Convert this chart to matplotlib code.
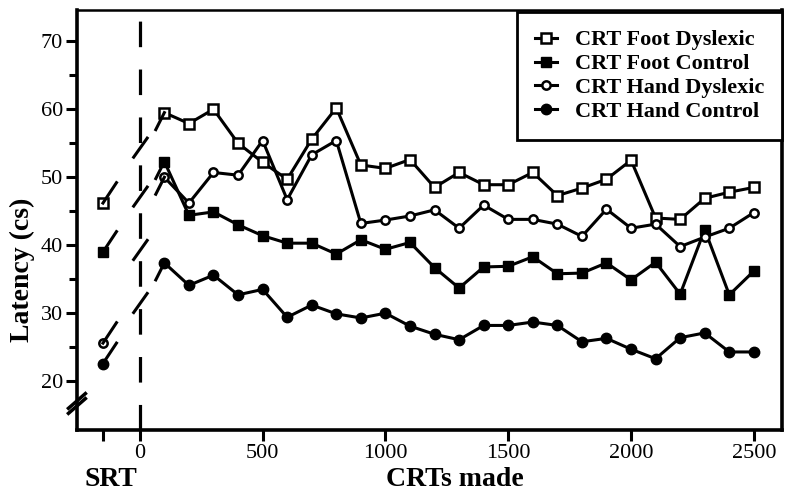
import matplotlib
matplotlib.use('Agg')

import numpy as np
import matplotlib.pyplot as plt

plt.rcParams['font.family'] = ['Liberation Serif', 'DejaVu Serif']

# CRT trial blocks (number of CRTs made)
crts = [100, 200, 300, 400, 500, 600, 700, 800, 900, 1000, 1100, 1200, 1300,
        1400, 1500, 1600, 1700, 1800, 1900, 2000, 2100, 2200, 2300, 2400, 2500]
srt_x = -150

foot_dys = [59.5, 57.9, 60.0, 55.0, 52.2, 49.7, 55.6, 60.2, 51.8, 51.3, 52.6, 48.5, 50.7,
            48.9, 48.9, 50.7, 47.3, 48.4, 49.7, 52.5, 44.0, 43.8, 46.9, 47.8, 48.5]
foot_ctl = [52.3, 44.4, 44.9, 43.0, 41.4, 40.3, 40.3, 38.7, 40.8, 39.4, 40.4, 36.7, 33.7,
            36.8, 36.9, 38.3, 35.8, 35.9, 37.4, 34.9, 37.5, 32.8, 42.3, 32.7, 36.2]
hand_dys = [50.0, 46.2, 50.7, 50.3, 55.4, 46.7, 53.3, 55.4, 43.2, 43.7, 44.3, 45.2, 42.5,
            45.9, 43.8, 43.8, 43.1, 41.3, 45.3, 42.5, 43.1, 39.8, 41.2, 42.5, 44.8]
hand_ctl = [37.4, 34.1, 35.6, 32.7, 33.5, 29.4, 31.2, 29.9, 29.3, 30.0, 28.1, 26.9, 26.1,
            28.2, 28.2, 28.7, 28.2, 25.8, 26.3, 24.7, 23.3, 26.4, 27.1, 24.3, 24.3]

# simple reaction time (SRT) values
srt_vals = [46.2, 39.0, 25.6, 22.6]

labels = ['CRT Foot Dyslexic', 'CRT Foot Control', 'CRT Hand Dyslexic', 'CRT Hand Control']
styles = [
    dict(marker='s', mfc='white', ms=6.5, mew=1.8),
    dict(marker='s', mfc='black', ms=7, mew=1.0),
    dict(marker='o', mfc='white', ms=6, mew=1.8),
    dict(marker='o', mfc='black', ms=7.5, mew=1.0),
]

fig = plt.figure(figsize=(7.85, 4.99), dpi=100)
ax = fig.add_axes([0.098, 0.138, 0.898, 0.842])

series = [foot_dys, foot_ctl, hand_dys, hand_ctl]
for vals, srt, lab, st in zip(series, srt_vals, labels, styles):
    ax.plot(crts, vals, color='black', lw=2.2, mec='black', label=lab, **st)
    # lead-in stub to first CRT point
    ax.plot([65, crts[0]], [vals[0] - 2.5, vals[0]], color='black', lw=2.2)
    # SRT point with broken stub
    ax.plot([srt_x], [srt], color='black', **st, mec='black', ls='none')
    ax.plot([srt_x, srt_x + 55], [srt, srt + 3], color='black', lw=2.2)
    # break slash across the dashed line
    mid = (srt + vals[0]) / 2 + 1.5
    ax.plot([-25, 30], [mid - 1.4, mid + 1.4], color='black', lw=2.2)

# dashed separator between SRT and CRTs
ax.axvline(0, ymax=0.99, color='black', lw=2.3, dashes=(8, 7))

ax.set_xlim(-256, 2614)
ax.set_ylim(12.8, 74.6)

ax.set_xticks([srt_x, 0, 500, 1000, 1500, 2000, 2500])
ax.set_xticklabels(['', '0', '500', '1000', '1500', '2000', '2500'])
ax.set_yticks([20, 30, 40, 50, 60, 70])
ax.set_yticks([25, 35, 45, 55, 65], minor=True)

ax.tick_params(axis='both', which='major', direction='out', length=8, width=2.2,
               labelsize=16, pad=2)
ax.tick_params(axis='y', which='minor', direction='out', length=6, width=2.2)

for side in ['left', 'bottom', 'right']:
    ax.spines[side].set_linewidth(2.6)
ax.spines['top'].set_linewidth(1.8)

# axis break marks on the y axis
for dy in [0.0, 0.012]:
    ax.plot([-0.012, 0.012], [0.04 + dy, 0.075 + dy], transform=ax.transAxes,
            color='black', lw=2.5, clip_on=False)

fig.text(0.029, 0.46, 'Latency (cs)', fontsize=20, fontweight='bold',
         rotation=90, ha='center', va='center')
fig.text(0.141, 0.04, 'SRT', fontsize=20, fontweight='bold', ha='center', va='center')
fig.text(0.58, 0.04, 'CRTs made', fontsize=20, fontweight='bold', ha='center', va='center')

leg = ax.legend(loc='upper right', bbox_to_anchor=(1.0, 0.995),
                prop={'weight': 'bold', 'size': 16}, frameon=True, fancybox=False,
                handlelength=1.0, handletextpad=0.8, borderaxespad=0, labelspacing=0.15,
                borderpad=0.8)
leg.get_frame().set_edgecolor('black')
leg.get_frame().set_linewidth(2.0)
leg.get_frame().set_alpha(1)

fig.savefig('out.png', dpi=100)
